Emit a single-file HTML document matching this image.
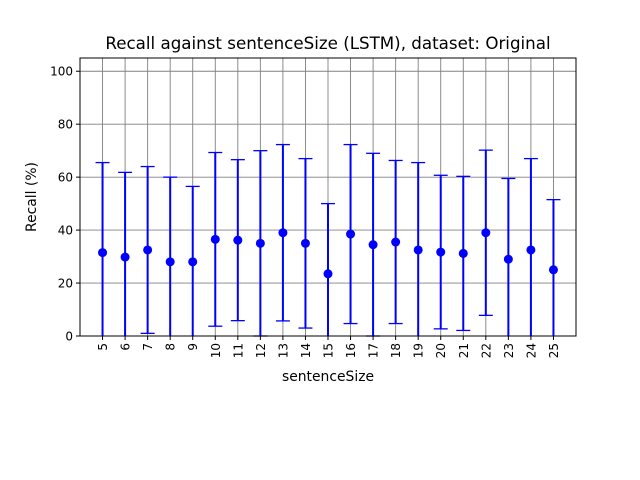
<!DOCTYPE html>
<html><head><meta charset="utf-8"><style>
body{margin:0;background:#fff;}
svg{display:block;font-family:"DejaVu Sans","Liberation Sans",sans-serif;}
</style></head><body>
<svg id="chart" width="640" height="480">
<text x="328" y="49" text-anchor="middle" font-size="16.7">Recall against sentenceSize (LSTM), dataset: Original</text>
<g id="grid"></g><g id="marks"></g><g id="axes"></g>
<text x="328" y="381" text-anchor="middle" font-size="13.9">sentenceSize</text>
<text transform="translate(36,197) rotate(-90)" text-anchor="middle" font-size="13.9">Recall (%)</text>
</svg>
<script>
const categories=[5,6,7,8,9,10,11,12,13,14,15,16,17,18,19,20,21,22,23,24,25];
const means=[31.5,29.8,32.5,28,28,36.5,36.2,35,39,35,23.5,38.5,34.5,35.5,32.5,31.7,31.2,39,29,32.5,25];
const errs=[34,32,31.5,32,28.5,32.8,30.4,35,33.3,32,26.5,33.8,34.5,30.8,33,29,29.1,31.2,30.5,34.5,26.5];
const yTicks=[0,20,40,60,80,100];
const L=80,R=576,T=58,B=336,xmin=4,xmax=26,ymin=0,ymax=105;
const NS="http://www.w3.org/2000/svg";
const xs=v=>L+(v-xmin)/(xmax-xmin)*(R-L);
const ys=v=>B-(v-ymin)/(ymax-ymin)*(B-T);
const cy=v=>Math.max(ymin,Math.min(ymax,v));
function mk(tag,attrs,parent){const e=document.createElementNS(NS,tag);for(const k in attrs)e.setAttribute(k,attrs[k]);document.getElementById(parent).appendChild(e);return e;}
yTicks.forEach(t=>{
 const g=mk('line',{x1:L,x2:R,y1:ys(t),y2:ys(t),stroke:'#808080','stroke-width':0.9},'grid');
 
 
 const tk=mk('line',{x1:L-4,x2:L,y1:ys(t),y2:ys(t),stroke:'#000'},'axes');
 
 
 const tx=mk('text',{x:L-7,y:ys(t)+4.5,'text-anchor':'end','font-size':12},'axes');
 tx.textContent=t;
 
 
});
categories.forEach((c,i)=>{
 const x=xs(c);
 const g=mk('line',{x1:x,x2:x,y1:T,y2:B,stroke:'#808080','stroke-width':0.9},'grid');
 
 
 const tk=mk('line',{x1:x,x2:x,y1:B,y2:B+4,stroke:'#000'},'axes');
 
 
 const tx=mk('text',{transform:`translate(${x+4.5},${B+7}) rotate(-90)`,'text-anchor':'end','font-size':12},'axes');
 tx.textContent=c;
 
 
 const hi=means[i]+errs[i],lo=means[i]-errs[i];
 const eb=mk('line',{x1:x,x2:x,y1:ys(cy(lo)),y2:ys(cy(hi)),stroke:'#0000ff','stroke-width':2},'marks');
 
 
 [hi,lo].forEach(v=>{ if(v>=ymin&&v<=ymax){
  const cap=mk('line',{x1:x-7,x2:x+7,y1:ys(v),y2:ys(v),stroke:'#0000ff','stroke-width':1.3},'marks');
  
  }});
 const p=mk('circle',{cx:x,cy:ys(means[i]),r:4.5,fill:'#0000ff'},'marks');
 
 
});
const fr=mk('rect',{x:L,y:T,width:R-L,height:B-T,fill:'none',stroke:'#000','stroke-width':1},'axes');


</script>
</body></html>
